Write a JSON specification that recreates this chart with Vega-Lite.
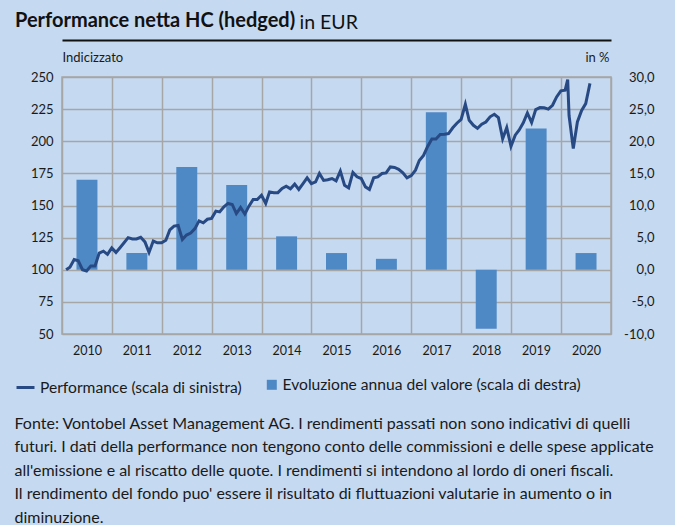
{
  "$schema": "https://vega.github.io/schema/vega-lite/v6.json",
  "width": 549,
  "height": 257,
  "autosize": {"type": "none"},
  "padding": {"left": 62, "top": 77, "right": 64, "bottom": 191},
  "background": "#c5d9f1",
  "config": {
    "font": "Lato",
    "view": {"stroke": "#a6a6a6", "strokeWidth": 1.5, "fill": null},
    "axis": {"labelFont": "Lato", "titleFont": "Lato", "labelColor": "#1a1a1a", "titleColor": "#1a1a1a", "gridColor": "#a6a6a6", "gridWidth": 1.5, "gridOpacity": 1},
    "legend": {"labelFont": "Lato", "labelColor": "#1a1a1a", "labelLimit": 500}
  },
  "title": {
    "text": "Performance netta HC (hedged)",
    "anchor": "start",
    "frame": "group",
    "font": "Lato",
    "fontSize": 20,
    "fontWeight": "bold",
    "color": "#111111",
    "dx": -47,
    "dy": 23
  },
  "datasets": {
    "annual": [
      {"anno": "2010", "rendimento": 14.0},
      {"anno": "2011", "rendimento": 2.6},
      {"anno": "2012", "rendimento": 16.0},
      {"anno": "2013", "rendimento": 13.2},
      {"anno": "2014", "rendimento": 5.2},
      {"anno": "2015", "rendimento": 2.6},
      {"anno": "2016", "rendimento": 1.7},
      {"anno": "2017", "rendimento": 24.5},
      {"anno": "2018", "rendimento": -9.2},
      {"anno": "2019", "rendimento": 22.0},
      {"anno": "2020", "rendimento": 2.6}
    ],
    "perf": [
      {"data": "2010-01-31", "valore": 100},
      {"data": "2010-02-28", "valore": 102},
      {"data": "2010-03-31", "valore": 108},
      {"data": "2010-04-30", "valore": 107},
      {"data": "2010-05-31", "valore": 100},
      {"data": "2010-06-30", "valore": 99},
      {"data": "2010-07-31", "valore": 103},
      {"data": "2010-08-31", "valore": 103},
      {"data": "2010-09-30", "valore": 113},
      {"data": "2010-10-31", "valore": 114.5},
      {"data": "2010-11-30", "valore": 112},
      {"data": "2010-12-31", "valore": 117},
      {"data": "2011-01-31", "valore": 113.5},
      {"data": "2011-02-28", "valore": 117},
      {"data": "2011-03-31", "valore": 121},
      {"data": "2011-04-30", "valore": 125},
      {"data": "2011-05-31", "valore": 124},
      {"data": "2011-06-30", "valore": 124},
      {"data": "2011-07-31", "valore": 125.3},
      {"data": "2011-08-31", "valore": 121.7},
      {"data": "2011-09-30", "valore": 113.5},
      {"data": "2011-10-31", "valore": 122.3},
      {"data": "2011-11-30", "valore": 121},
      {"data": "2011-12-31", "valore": 121},
      {"data": "2012-01-31", "valore": 123},
      {"data": "2012-02-29", "valore": 131},
      {"data": "2012-03-31", "valore": 134},
      {"data": "2012-04-30", "valore": 134.5},
      {"data": "2012-05-31", "valore": 123.5},
      {"data": "2012-06-30", "valore": 127},
      {"data": "2012-07-31", "valore": 128.5},
      {"data": "2012-08-31", "valore": 132},
      {"data": "2012-09-30", "valore": 138},
      {"data": "2012-10-31", "valore": 136.5},
      {"data": "2012-11-30", "valore": 139.3},
      {"data": "2012-12-31", "valore": 140},
      {"data": "2013-01-31", "valore": 145.6},
      {"data": "2013-02-28", "valore": 145},
      {"data": "2013-03-31", "valore": 149},
      {"data": "2013-04-30", "valore": 151.6},
      {"data": "2013-05-31", "valore": 150.8},
      {"data": "2013-06-30", "valore": 143.7},
      {"data": "2013-07-31", "valore": 148.4},
      {"data": "2013-08-31", "valore": 143.3},
      {"data": "2013-09-30", "valore": 149.5},
      {"data": "2013-10-31", "valore": 154.7},
      {"data": "2013-11-30", "valore": 154.7},
      {"data": "2013-12-31", "valore": 158},
      {"data": "2014-01-31", "valore": 151.6},
      {"data": "2014-02-28", "valore": 160.6},
      {"data": "2014-03-31", "valore": 160},
      {"data": "2014-04-30", "valore": 160},
      {"data": "2014-05-31", "valore": 163.3},
      {"data": "2014-06-30", "valore": 165},
      {"data": "2014-07-31", "valore": 163},
      {"data": "2014-08-31", "valore": 166.6},
      {"data": "2014-09-30", "valore": 162.5},
      {"data": "2014-10-31", "valore": 167},
      {"data": "2014-11-30", "valore": 171.5},
      {"data": "2014-12-31", "valore": 167},
      {"data": "2015-01-31", "valore": 168.4},
      {"data": "2015-02-28", "valore": 175},
      {"data": "2015-03-31", "valore": 169.5},
      {"data": "2015-04-30", "valore": 170},
      {"data": "2015-05-31", "valore": 171},
      {"data": "2015-06-30", "valore": 169.2},
      {"data": "2015-07-31", "valore": 176.8},
      {"data": "2015-08-31", "valore": 165.8},
      {"data": "2015-09-30", "valore": 163.7},
      {"data": "2015-10-31", "valore": 175.7},
      {"data": "2015-11-30", "valore": 172.3},
      {"data": "2015-12-31", "valore": 171},
      {"data": "2016-01-31", "valore": 164.5},
      {"data": "2016-02-29", "valore": 162.5},
      {"data": "2016-03-31", "valore": 171.5},
      {"data": "2016-04-30", "valore": 172.3},
      {"data": "2016-05-31", "valore": 174.9},
      {"data": "2016-06-30", "valore": 175.4},
      {"data": "2016-07-31", "valore": 180},
      {"data": "2016-08-31", "valore": 179.6},
      {"data": "2016-09-30", "valore": 178.2},
      {"data": "2016-10-31", "valore": 175.4},
      {"data": "2016-11-30", "valore": 171.5},
      {"data": "2016-12-31", "valore": 173.3},
      {"data": "2017-01-31", "valore": 177.5},
      {"data": "2017-02-28", "valore": 185},
      {"data": "2017-03-31", "valore": 189},
      {"data": "2017-04-30", "valore": 196},
      {"data": "2017-05-31", "valore": 201.8},
      {"data": "2017-06-30", "valore": 201.8},
      {"data": "2017-07-31", "valore": 205.2},
      {"data": "2017-08-31", "valore": 205.5},
      {"data": "2017-09-30", "valore": 206},
      {"data": "2017-10-31", "valore": 210.5},
      {"data": "2017-11-30", "valore": 214},
      {"data": "2017-12-31", "valore": 217},
      {"data": "2018-01-31", "valore": 228.8},
      {"data": "2018-02-28", "valore": 216.3},
      {"data": "2018-03-31", "valore": 212.4},
      {"data": "2018-04-30", "valore": 210},
      {"data": "2018-05-31", "valore": 213.2},
      {"data": "2018-06-30", "valore": 215},
      {"data": "2018-07-31", "valore": 219},
      {"data": "2018-08-31", "valore": 221},
      {"data": "2018-09-30", "valore": 218.4},
      {"data": "2018-10-31", "valore": 202},
      {"data": "2018-11-30", "valore": 210.6},
      {"data": "2018-12-31", "valore": 196},
      {"data": "2019-01-31", "valore": 204.7},
      {"data": "2019-02-28", "valore": 208.6},
      {"data": "2019-03-31", "valore": 214.3},
      {"data": "2019-04-30", "valore": 222},
      {"data": "2019-05-31", "valore": 214.5},
      {"data": "2019-06-30", "valore": 224.6},
      {"data": "2019-07-31", "valore": 226.2},
      {"data": "2019-08-31", "valore": 226},
      {"data": "2019-09-30", "valore": 225},
      {"data": "2019-10-31", "valore": 228},
      {"data": "2019-11-30", "valore": 234.5},
      {"data": "2019-12-31", "valore": 239.2},
      {"data": "2020-01-31", "valore": 239.7},
      {"data": "2020-02-19", "valore": 248},
      {"data": "2020-02-29", "valore": 220},
      {"data": "2020-03-31", "valore": 194.3},
      {"data": "2020-04-30", "valore": 215},
      {"data": "2020-05-31", "valore": 224},
      {"data": "2020-06-30", "valore": 229.3},
      {"data": "2020-07-31", "valore": 245}
    ]
  },
  "layer": [
    {
      "data": {"name": "annual"},
      "mark": {"type": "bar"},
      "encoding": {
        "x": {
          "field": "anno",
          "type": "ordinal",
          "scale": {"paddingInner": 0.58, "paddingOuter": 0.29},
          "axis": {
            "orient": "top",
            "offset": 37,
            "domain": true,
            "domainColor": "#111111",
            "domainWidth": 2,
            "labels": false,
            "ticks": false,
            "grid": false,
            "title": "in EUR",
            "titleX": 237,
            "titleY": -12,
            "titleAlign": "left",
            "titleAnchor": null,
            "titleBaseline": "alphabetic",
            "titleFontSize": 19.5,
            "titleFontWeight": "normal",
            "titleColor": "#111111"
          }
        },
        "y": {
          "field": "rendimento",
          "type": "quantitative",
          "scale": {"domain": [-10, 30], "nice": false},
          "axis": {
            "orient": "right",
            "values": [-10, -5, 0, 5, 10, 15, 20, 25, 30],
            "grid": false,
            "domain": false,
            "ticks": false,
            "labelExpr": "replace(replace(format(datum.value, '.1f'), '.', ','), '\u2212', '-')",
            "labelAlign": "right",
            "labelPadding": 43,
            "labelFontSize": 13,
            "title": "in %",
            "titleAngle": 0,
            "titleX": -2,
            "titleY": -16,
            "titleAlign": "right",
            "titleAnchor": null,
            "titleBaseline": "alphabetic",
            "titleFontSize": 13,
            "titleFontWeight": "normal"
          }
        },
        "color": {
          "datum": "Evoluzione annua del valore (scala di destra)",
          "scale": {"range": ["#4f89c5"]},
          "legend": {
            "orient": "none",
            "legendX": 202,
            "legendY": 300,
            "title": null,
            "symbolType": "square",
            "symbolSize": 100,
            "symbolStrokeWidth": 0,
            "labelFontSize": 15.6,
            "labelOffset": 3,
            "labelLimit": 500,
            "padding": 0
          }
        }
      }
    },
    {
      "data": {"name": "perf"},
      "mark": {"type": "line", "strokeWidth": 3},
      "encoding": {
        "x": {
          "field": "data",
          "type": "temporal",
          "scale": {"type": "utc", "domain": [{"year": 2010, "month": 1, "date": 1, "utc": true}, {"year": 2021, "month": 1, "date": 1, "utc": true}]},
          "axis": {
            "orient": "bottom",
            "tickCount": {"interval": "year", "step": 1},
            "format": "%Y",
            "labelExpr": "utcyear(datum.value) > 2020 ? '' : datum.label",
            "labelOffset": 25,
            "labelOverlap": false,
            "labelFlush": false,
            "labelBound": false,
            "labelPadding": 10,
            "labelFontSize": 12.5,
            "grid": true,
            "ticks": false,
            "domain": false,
            "title": [
              "Fonte: Vontobel Asset Management AG. I rendimenti passati non sono indicativi di quelli",
              "futuri. I dati della performance non tengono conto delle commissioni e delle spese applicate",
              "all'emissione e al riscatto delle quote. I rendimenti si intendono al lordo di oneri fiscali.",
              "Il rendimento del fondo puo' essere il risultato di fluttuazioni valutarie in aumento o in",
              "diminuzione."
            ],
            "titleX": -48,
            "titleY": 94,
            "titleAlign": "left",
            "titleAnchor": null,
            "titleBaseline": "alphabetic",
            "titleLineHeight": 23.5,
            "titleFontSize": 16,
            "titleFontWeight": "normal"
          }
        },
        "y": {
          "field": "valore",
          "type": "quantitative",
          "scale": {"domain": [50, 250], "nice": false, "zero": false},
          "axis": {
            "orient": "left",
            "values": [50, 75, 100, 125, 150, 175, 200, 225, 250],
            "grid": true,
            "domain": false,
            "ticks": false,
            "labelPadding": 9,
            "labelFontSize": 13,
            "title": "Indicizzato",
            "titleAngle": 0,
            "titleX": 0,
            "titleY": -16,
            "titleAlign": "left",
            "titleAnchor": null,
            "titleBaseline": "alphabetic",
            "titleFontSize": 13,
            "titleFontWeight": "normal"
          }
        },
        "color": {
          "datum": "Performance (scala di sinistra)",
          "scale": {"range": ["#284a84"]},
          "legend": {
            "orient": "none",
            "legendX": -47,
            "legendY": 300,
            "title": null,
            "symbolType": "stroke",
            "symbolSize": 324,
            "symbolStrokeWidth": 3,
            "labelFontSize": 15.6,
            "labelOffset": 4,
            "labelLimit": 500,
            "padding": 0
          }
        }
      }
    }
  ],
  "resolve": {
    "scale": {"x": "independent", "y": "independent", "color": "independent"},
    "axis": {"x": "independent", "y": "independent"},
    "legend": {"color": "independent"}
  }
}
